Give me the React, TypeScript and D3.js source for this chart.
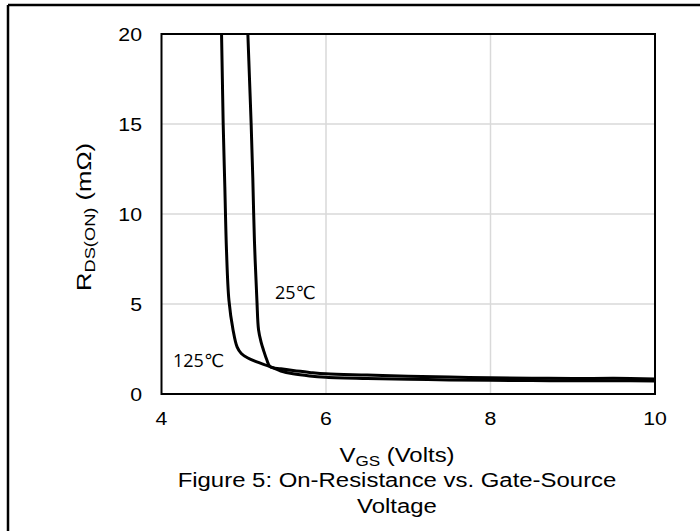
import React from "react";
import * as d3 from "d3";

const vgs25 = [5.05, 5.07, 5.09, 5.11, 5.13, 5.16, 5.18, 5.21, 5.24, 5.28, 5.32, 5.45, 5.6, 5.8, 6.0, 6.5, 7.0, 7.5, 8.0, 8.5, 9.0, 9.5, 10.0];
const rds25 = [20, 17.5, 15, 12, 8.5, 5.2, 3.56, 2.9, 2.44, 1.9, 1.52, 1.4, 1.3, 1.2, 1.12, 1.05, 0.98, 0.94, 0.9, 0.88, 0.86, 0.87, 0.84];
const vgs125 = [4.73, 4.74, 4.75, 4.77, 4.79, 4.82, 4.87, 4.92, 4.97, 5.05, 5.15, 5.32, 5.45, 5.6, 5.8, 6.0, 6.5, 7.0, 7.5, 8.0, 8.5, 9.0, 9.5, 10.0];
const rds125 = [20, 17.5, 15, 11.5, 8, 5.2, 3.56, 2.6, 2.25, 2.0, 1.8, 1.52, 1.28, 1.12, 1.0, 0.93, 0.86, 0.82, 0.78, 0.76, 0.75, 0.73, 0.74, 0.72];
const xTicks = [4, 6, 8, 10];
const yTicks = [0, 5, 10, 15, 20];
const captionLines = ["Figure 5: On-Resistance vs. Gate-Source", "Voltage"];

const L = 161.5, R = 655, T = 34, B = 394;
const FONT = "'Liberation Sans', Arial, sans-serif";
const LABEL_FONT = "'Open Sans', 'DejaVu Sans', sans-serif";

export default function App() {
  const x = d3.scaleLinear().domain([4, 10]).range([L, R]);
  const y = d3.scaleLinear().domain([0, 20]).range([B, T]);
  const line = d3
    .line<[number, number]>()
    .x((d) => x(d[0]))
    .y((d) => y(d[1]))
    .curve(d3.curveCatmullRom.alpha(0.5));
  const d25 = line(vgs25.map((v, i) => [v, rds25[i]] as [number, number])) || "";
  const d125 = line(vgs125.map((v, i) => [v, rds125[i]] as [number, number])) || "";
  const cx = 397;

  return (
    <svg
      width={700}
      height={531}
      style={{ position: "absolute", left: 0, top: 0, background: "#fff" }}
    >
      <defs>
        <clipPath id="plot">
          <rect x={L} y={T} width={R - L + 2} height={B - T} />
        </clipPath>
      </defs>
      <rect x={0} y={0} width={700} height={531} fill="#fff" />
      {/* outer frame */}
      <line x1={8} y1={5} x2={700} y2={5} stroke="#000" strokeWidth={2.5} />
      <line x1={8} y1={5} x2={8} y2={531} stroke="#000" strokeWidth={2.5} />

      {/* gridlines */}
      {xTicks.filter((t) => t !== 4 && t !== 10).map((t) => (
        <line key={"gx" + t} x1={x(t)} x2={x(t)} y1={T} y2={B} stroke="#d9d9d9" strokeWidth={1.5} />
      ))}
      {yTicks.filter((t) => t !== 0 && t !== 20).map((t) => (
        <line key={"gy" + t} x1={L} x2={R} y1={y(t)} y2={y(t)} stroke="#d9d9d9" strokeWidth={1.5} />
      ))}

      {/* curves */}
      <g clipPath="url(#plot)">
        <path d={d25} fill="none" stroke="#000" strokeWidth={3} />
        <path d={d125} fill="none" stroke="#000" strokeWidth={3} />
      </g>

      {/* plot border */}
      <rect x={L} y={T} width={R - L} height={B - T} fill="none" stroke="#000" strokeWidth={2} />

      {/* y tick labels */}
      {yTicks.map((t) => (
        <text
          key={"yt" + t}
          transform={`translate(142,${y(t) + 6.5}) scale(1.15,1)`}
          textAnchor="end"
          fontFamily={FONT}
          fontSize={18.5}
          fill="#000"
        >
          {t}
        </text>
      ))}
      {/* x tick labels */}
      {xTicks.map((t) => (
        <text
          key={"xt" + t}
          transform={`translate(${x(t)},425) scale(1.15,1)`}
          textAnchor="middle"
          fontFamily={FONT}
          fontSize={18.5}
          fill="#000"
        >
          {t}
        </text>
      ))}

      {/* series labels */}
      <text x={275} y={299} fontFamily={LABEL_FONT} fontSize={18} fill="#000">25℃</text>
      <text x={173} y={367} fontFamily={LABEL_FONT} fontSize={18} fill="#000">125℃</text>

      {/* y axis title */}
      <text
        transform={`translate(91,217) rotate(-90) scale(1.22,1)`}
        textAnchor="middle"
        fontFamily={FONT}
        fontSize={21}
        fill="#000"
      >
        R<tspan fontSize={15} dy={4}>DS(ON)</tspan>
        <tspan dy={-4}> (mΩ)</tspan>
      </text>

      {/* x axis title */}
      <text
        transform={`translate(${cx},462) scale(1.14,1)`}
        textAnchor="middle"
        fontFamily={FONT}
        fontSize={21}
        fill="#000"
      >
        V<tspan fontSize={15} dy={4}>GS</tspan>
        <tspan dy={-4}> (Volts)</tspan>
      </text>

      {/* caption */}
      {captionLines.map((c, i) => (
        <text
          key={"cap" + i}
          transform={`translate(${cx},${487 + i * 26}) scale(1.14,1)`}
          textAnchor="middle"
          fontFamily={FONT}
          fontSize={21}
          fill="#000"
        >
          {c}
        </text>
      ))}
    </svg>
  );
}
